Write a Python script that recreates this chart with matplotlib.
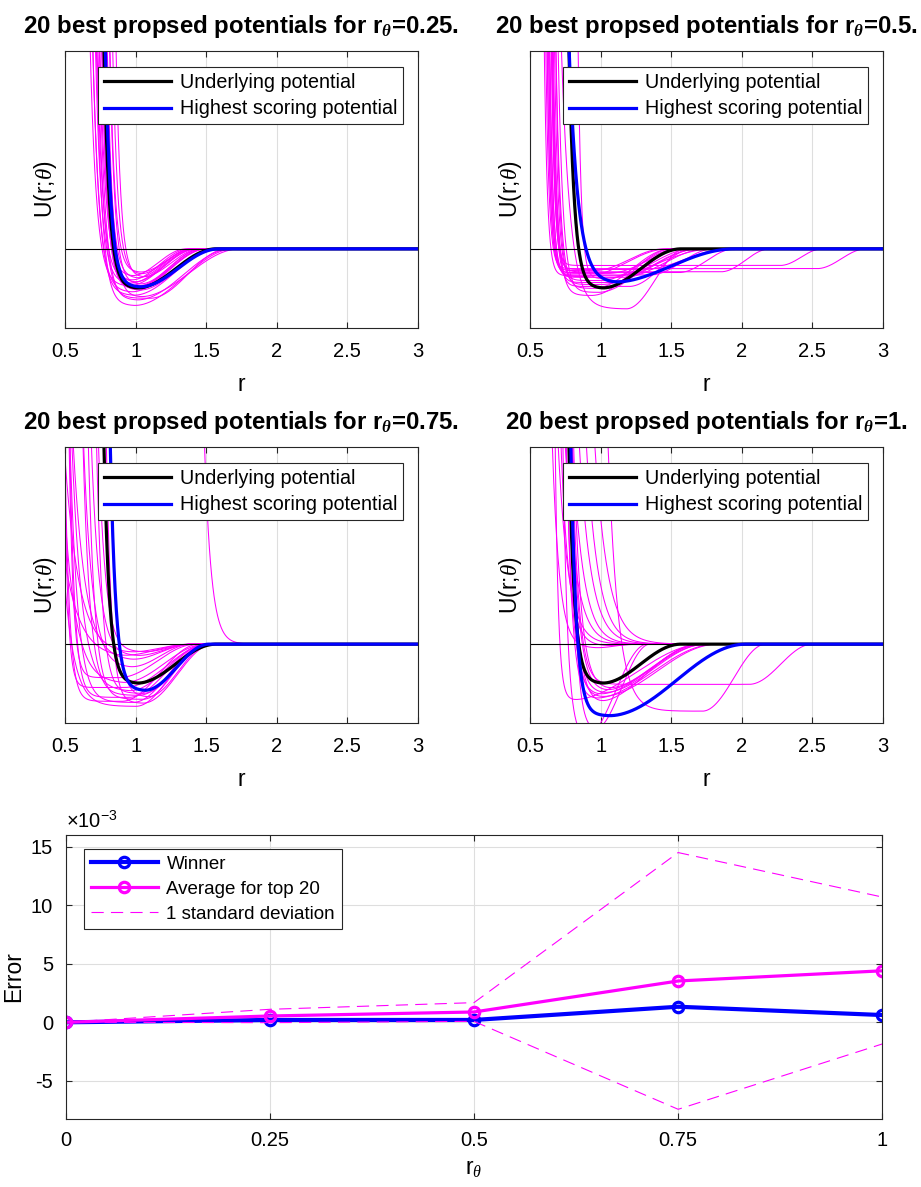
import numpy as np
import matplotlib
matplotlib.use('Agg')
from matplotlib import pyplot as plt

plt.rcParams['font.family'] = ['Liberation Sans', 'DejaVu Sans']
plt.rcParams['mathtext.fontset'] = 'custom'
plt.rcParams['mathtext.rm'] = 'Liberation Sans'
plt.rcParams['mathtext.it'] = 'Liberation Serif:italic'
plt.rcParams['mathtext.bf'] = 'Liberation Serif:bold:italic'
plt.rcParams['axes.unicode_minus'] = False

# each potential: (rw, k, D, rs, L)
#   wall exp(-k (r - rw)), well depth D, flat until rs, smooth rise over L
underlying = (0.845, 26, 1.00, 1.00, 0.57)

r_thetas = [0.25, 0.5, 0.75, 1]

winners = [
    (0.855, 26, 0.97, 1.02, 0.57),
    (0.888, 16, 0.87, 1.05, 0.90),
    (0.891, 26, 1.18, 1.06, 0.46),
    (0.863, 26, 1.82, 1.05, 0.98),
]

top20_025 = [
    (0.80, 24, 1.44, 0.98, 0.72), (0.82, 24, 1.30, 1.00, 0.68),
    (0.78, 22, 1.18, 0.98, 0.60), (0.85, 26, 1.05, 1.02, 0.55),
    (0.83, 26, 1.00, 0.98, 0.50), (0.76, 22, 0.95, 0.94, 0.50),
    (0.88, 28, 0.90, 1.02, 0.45), (0.84, 26, 0.85, 0.98, 0.45),
    (0.80, 24, 0.80, 0.96, 0.42), (0.86, 26, 0.75, 1.00, 0.40),
    (0.82, 24, 0.70, 0.96, 0.40), (0.90, 28, 0.65, 1.02, 0.38),
    (0.78, 22, 1.10, 0.96, 0.55), (0.87, 26, 1.22, 1.02, 0.72),
    (0.81, 24, 1.25, 1.10, 0.55), (0.85, 26, 0.95, 1.00, 0.50),
    (0.79, 24, 0.88, 0.95, 0.48), (0.92, 30, 0.72, 1.04, 0.42),
    (0.83, 26, 1.02, 0.98, 0.52), (0.88, 28, 0.60, 1.02, 0.40),
]

top20_05 = [
    (0.66, 45, 0.55, 0.95, 0.50), (0.67, 45, 0.62, 1.05, 0.55),
    (0.68, 42, 0.70, 0.88, 0.60), (0.65, 45, 0.50, 2.53, 0.35),
    (0.69, 45, 0.42, 2.27, 0.30), (0.70, 42, 0.58, 1.85, 0.35),
    (0.72, 38, 0.80, 1.00, 0.55), (0.74, 32, 1.00, 0.95, 0.55),
    (0.72, 30, 1.18, 0.93, 0.58), (0.84, 16, 1.52, 1.18, 0.42),
    (0.67, 45, 0.66, 1.35, 0.45), (0.68, 45, 0.72, 1.15, 0.60),
    (0.73, 38, 0.90, 1.00, 0.70), (0.66, 45, 0.60, 1.55, 0.40),
    (0.70, 40, 0.85, 1.05, 0.65), (0.76, 30, 1.10, 0.98, 0.60),
    (0.69, 45, 0.52, 1.30, 0.60), (0.88, 45, 0.75, 1.00, 0.80),
    (0.71, 40, 0.95, 1.20, 0.45), (0.64, 45, 0.68, 1.10, 0.55),
]

top20_075 = [
    (0.60, 9, 0.35, 0.85, 0.55), (0.66, 10, 0.25, 0.90, 0.50),
    (0.70, 12, 0.42, 0.95, 0.45), (0.56, 30, 1.45, 0.90, 0.55),
    (0.60, 28, 1.35, 0.95, 0.55), (0.58, 14, 1.58, 1.00, 0.50),
    (0.64, 18, 1.48, 0.98, 0.52), (0.72, 20, 1.30, 1.02, 0.50),
    (0.75, 22, 1.40, 1.05, 0.45), (0.80, 24, 1.25, 1.05, 0.48),
    (0.68, 14, 1.20, 0.95, 0.55), (1.565, 21, 0.00, 2.00, 0.30),
    (0.78, 18, 0.30, 1.00, 0.40), (0.82, 20, 0.20, 1.05, 0.35),
    (0.54, 40, 1.10, 0.92, 0.60), (0.62, 12, 1.00, 0.90, 0.60),
    (0.90, 22, 1.35, 1.08, 0.45), (0.86, 28, 1.50, 1.05, 0.50),
    (0.74, 16, 0.60, 0.95, 0.45), (0.58, 35, 0.85, 0.88, 0.55),
]

top20_1 = [
    (0.72, 45, 1.42, 0.78, 0.95), (0.80, 30, 2.40, 0.88, 0.45),
    (0.86, 30, 2.20, 0.95, 0.40), (1.189, 14, 1.70, 1.72, 0.45),
    (0.88, 22, 1.02, 2.05, 0.45), (0.84, 22, 1.30, 0.95, 0.80),
    (0.86, 22, 1.25, 1.00, 0.75), (0.88, 20, 1.20, 1.00, 0.72),
    (0.85, 24, 1.35, 0.98, 0.85), (0.90, 20, 1.15, 1.02, 0.70),
    (0.87, 22, 1.50, 0.95, 0.75), (0.815, 14, 0.00, 1.00, 0.30),
    (0.874, 13, 0.00, 1.00, 0.30), (0.924, 13, 0.00, 1.00, 0.30),
    (0.984, 12, 0.00, 1.00, 0.30), (1.034, 12, 0.00, 1.00, 0.30),
    (1.106, 11, 0.00, 1.00, 0.30), (0.81, 18, 0.05, 1.00, 0.30),
    (0.74, 20, 0.10, 0.95, 0.30), (0.83, 26, 1.40, 0.92, 0.90),
]

top20_sets = [top20_025, top20_05, top20_075, top20_1]

# error summary (units of 1e-3)
err_x = [0, 0.25, 0.5, 0.75, 1]
winner_err = [0.0, 0.20, 0.20, 1.33, 0.62]
average_err = [0.0, 0.54, 0.88, 3.53, 4.40]
std_upper = [0.0, 1.11, 1.68, 14.50, 10.70]
std_lower = [0.0, -0.03, 0.08, -7.43, -1.85]


def potential(r, rw, k, D, rs, L):
    wall = np.exp(-k * (r - rw))
    t = np.clip((r - rs) / L, 0, 1)
    return wall - D * 0.5 * (1 + np.cos(np.pi * t))


FS = 14.5
LFS = 16.5
GRID = '#dedede'
EDGE = '#262626'
MAG = (1, 0, 1)

fig = plt.figure(figsize=(9.21, 11.87), dpi=100)
W, H = 921, 1187


def px_axes(x0, y0, x1, y1):
    return fig.add_axes([x0 / W, 1 - y1 / H, (x1 - x0) / W, (y1 - y0) / H])


def style(ax):
    for s in ax.spines.values():
        s.set_color(EDGE)
        s.set_linewidth(0.8)


boxes = [(65, 51, 418, 328), (530, 51, 883, 328),
         (65, 447, 418, 723), (530, 447, 883, 723)]

r = np.linspace(0.5, 3, 1500)

for box, rt, win, top20 in zip(boxes, r_thetas, winners, top20_sets):
    ax = px_axes(*box)
    for p in top20:
        ax.plot(r, potential(r, *p), color=MAG, lw=0.75)
    ax.axhline(0, color='k', lw=0.8)
    h1, = ax.plot(r, potential(r, *underlying), color='k', lw=2.3,
                  label='Underlying potential')
    h2, = ax.plot(r, potential(r, *win), color='b', lw=2.3,
                  label='Highest scoring potential')
    ax.set_xlim(0.5, 3)
    ax.set_ylim(-2, 5)
    ax.set_xticks([0.5, 1, 1.5, 2, 2.5, 3])
    ax.set_xticklabels(['0.5', '1', '1.5', '2', '2.5', '3'])
    ax.set_yticks([])
    ax.grid(True, axis='x', color=GRID, lw=0.8)
    ax.set_axisbelow(True)
    ax.tick_params(axis='x', direction='in', top=True, length=4,
                   labelsize=FS, pad=10, color=EDGE)
    style(ax)
    ax.set_xlabel('r', fontsize=LFS, labelpad=9)
    ax.set_ylabel(r'U(r;$\theta$)', fontsize=LFS, labelpad=4)
    ax.set_title('20 best propsed potentials for r$_{\\mathbf{\\theta}}$=%g.' % rt,
                 fontsize=17.3, fontweight='bold', pad=13)
    leg = ax.legend(handles=[h1, h2], loc='upper right',
                    bbox_to_anchor=(0.9575, 0.942), borderaxespad=0,
                    fontsize=14.2, handlelength=3.4, handletextpad=0.45,
                    fancybox=False, framealpha=1, edgecolor=EDGE,
                    borderpad=0.3, labelspacing=0.38)
    leg.get_frame().set_linewidth(0.8)

# error plot
ax = px_axes(65.7, 835, 882.3, 1119)
ax.plot(err_x, winner_err, '-o', color='b', lw=3.0, ms=7.5, mew=2.3,
        mfc='none', label='Winner')
ax.plot(err_x, average_err, '-o', color=MAG, lw=2.3, ms=7.5, mew=2.3,
        mfc='none', label='Average for top 20')
ax.plot(err_x, std_upper, '--', color=MAG, lw=0.8, dashes=(11, 6.5),
        label='1 standard deviation')
ax.plot(err_x, std_lower, '--', color=MAG, lw=0.8, dashes=(11, 6.5))
ax.set_xlim(0, 1)
ax.set_ylim(-8.26, 16.0)
ax.set_xticks(err_x)
ax.set_xticklabels(['0', '0.25', '0.5', '0.75', '1'])
ax.set_yticks([-5, 0, 5, 10, 15])
ax.grid(True, color=GRID, lw=0.8)
ax.set_axisbelow(True)
ax.tick_params(direction='in', top=True, right=True, length=4,
               labelsize=FS, pad=9, color=EDGE)
style(ax)
ax.set_xlabel(r'r$_{\theta}$', fontsize=LFS, labelpad=5)
ax.set_ylabel('Error', fontsize=LFS, labelpad=4)
ax.text(0, 1.012, r'$\times$10$^{-3}$', transform=ax.transAxes,
        fontsize=FS, va='bottom', ha='left')
leg = ax.legend(loc='upper left', bbox_to_anchor=(0.0224, 0.9507),
                borderaxespad=0, fontsize=13.5, handlelength=3.6,
                handletextpad=0.45, fancybox=False, framealpha=1,
                edgecolor=EDGE, borderpad=0.35, labelspacing=0.42)
leg.get_frame().set_linewidth(0.8)

fig.savefig('out.png', dpi=100)
plt.close('all')
